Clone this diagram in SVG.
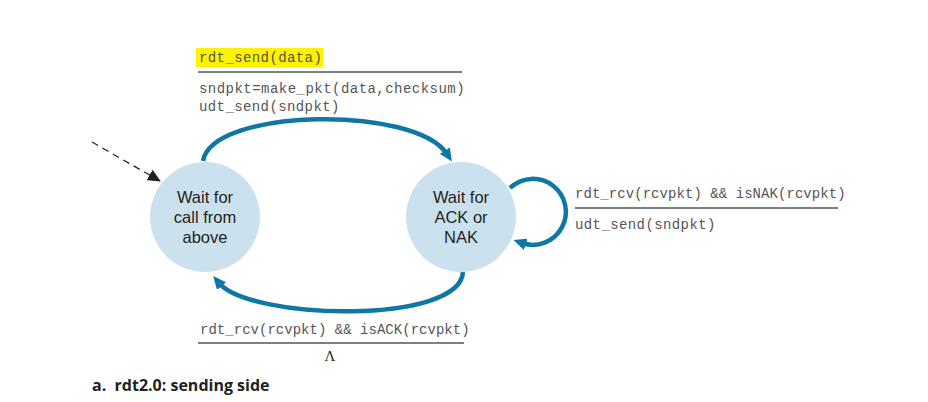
<svg xmlns="http://www.w3.org/2000/svg" width="928" height="402" viewBox="0 0 928 402">
  <defs>
    <style>
      .state { fill: #cbe2ee; }
      .state-label { font-family: "Liberation Sans", Arial, sans-serif; font-size: 16.5px; fill: #231f20; text-anchor: middle; }
      .code { font-family: "Liberation Mono", "Courier New", monospace; font-size: 14px; letter-spacing: 0.4px; fill: #555555; }
      .rule { stroke: #555; stroke-width: 1.5; }
      .edge { fill: none; stroke: #0e77a5; stroke-width: 4.5; }
      .init { fill: none; stroke: #231f20; stroke-width: 1.2; stroke-dasharray: 7 5; }
      .caption { font-family: "Open Sans", "Liberation Sans", sans-serif; font-size: 16px; font-weight: bold; fill: #231f20; white-space: pre; }
    </style>
    <marker id="head" markerUnits="userSpaceOnUse" markerWidth="14" markerHeight="12" refX="4" refY="6" orient="auto">
      <path d="M0,0 L13,6 L0,12 z" fill="#0e77a5"/>
    </marker>
    <marker id="init-head" markerUnits="userSpaceOnUse" markerWidth="14" markerHeight="12" refX="12" refY="6" orient="auto">
      <path d="M0,0 L13,6 L0,12 z" fill="#231f20"/>
    </marker>
  </defs>
  <rect width="928" height="402" fill="#ffffff"/>

  <!-- transitions -->
  <g id="connectors">
    <path class="init" d="M92 142 L160 181" marker-end="url(#init-head)"/>
    <path class="edge" d="M203 161 C212 108, 415 105, 447 154" marker-end="url(#head)"/>
    <path class="edge" d="M463 272 C460 325, 250 320, 219 283" marker-end="url(#head)"/>
    <path class="edge" d="M510 188 A33 33 0 1 1 522 243" marker-end="url(#head)"/>
  </g>

  <!-- states -->
  <g id="wait-call">
    <circle class="state" cx="205" cy="217" r="55"/>
    <text class="state-label" x="205" y="203">Wait for</text>
    <text class="state-label" x="205" y="223">call from</text>
    <text class="state-label" x="205" y="243">above</text>
  </g>
  <g id="wait-ack">
    <circle class="state" cx="461" cy="217" r="55"/>
    <text class="state-label" x="461" y="203">Wait for</text>
    <text class="state-label" x="461" y="223">ACK or</text>
    <text class="state-label" x="461" y="243">NAK</text>
  </g>

  <!-- transition labels -->
  <g id="label-send">
    <rect x="196" y="48" width="127" height="19" fill="#fff200"/>
    <text class="code" x="199" y="62">rdt_send(data)</text>
    <line class="rule" x1="198" y1="72" x2="462" y2="72"/>
    <text class="code" x="199" y="93" textLength="266">sndpkt=make_pkt(data,checksum)</text>
    <text class="code" x="199" y="111">udt_send(sndpkt)</text>
  </g>
  <g id="label-nak">
    <text class="code" x="575" y="198" textLength="271">rdt_rcv(rcvpkt) &amp;&amp; isNAK(rcvpkt)</text>
    <line class="rule" x1="575" y1="208" x2="838" y2="208"/>
    <text class="code" x="575" y="229">udt_send(sndpkt)</text>
  </g>
  <g id="label-ack">
    <text class="code" x="200" y="334" textLength="270">rdt_rcv(rcvpkt) &amp;&amp; isACK(rcvpkt)</text>
    <line class="rule" x1="198" y1="343" x2="464" y2="343"/>
    <text x="330" y="361" font-family="Liberation Serif, serif" font-size="15" fill="#231f20" text-anchor="middle">Λ</text>
  </g>

  <text class="caption" x="92" y="391" xml:space="preserve">a.  rdt2.0: sending side</text>
</svg>
